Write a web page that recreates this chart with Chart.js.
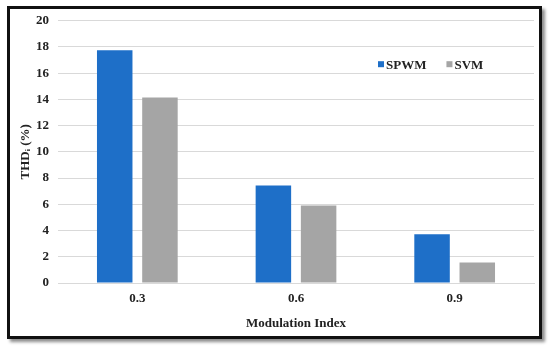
<!DOCTYPE html>
<html><head><meta charset="utf-8">
<script src="https://cdn.jsdelivr.net/npm/chart.js@4/dist/chart.umd.min.js"></script>
<style>
html,body{margin:0;padding:0;background:#fff;width:550px;height:351px;overflow:hidden;}
#frame{position:absolute;left:7px;top:6px;width:529px;height:327px;border:3px solid #111;box-shadow:3px 3px 3px rgba(0,0,0,0.45);background:#fff;}
#wrap{position:absolute;left:0;top:0;width:550px;height:351px;}
</style></head>
<body>
<div id="frame"></div>
<div id="wrap"><canvas id="c" width="550" height="351"></canvas></div>
<script>
const categories = ['0.3', '0.6', '0.9'];
const seriesNames = ['SPWM', 'SVM'];
const spwmValues = [17.75, 7.43, 3.72];
const svmValues = [14.15, 5.9, 1.57];
const yTicks = [0, 2, 4, 6, 8, 10, 12, 14, 16, 18, 20];

const FONT = 'Liberation Serif';
const legendPlugin = {
  id: 'insideLegend',
  afterDraw(chart) {
    const ctx = chart.ctx;
    const a = chart.chartArea;
    ctx.save();
    ctx.font = 'bold 13px "' + FONT + '"';
    ctx.textBaseline = 'middle';
    const y = a.top + 43.5;
    let x = a.left + 320;
    chart.data.datasets.forEach((ds) => {
      ctx.fillStyle = ds.backgroundColor;
      ctx.fillRect(x, y - 3, 6, 6);
      ctx.fillStyle = '#222';
      ctx.fillText(ds.label, x + 8, y + 1);
      x += 8 + ctx.measureText(ds.label).width + 20;
    });
    ctx.restore();
  }
};

new Chart(document.getElementById('c'), {
  type: 'bar',
  data: {
    labels: categories,
    datasets: [
      { label: seriesNames[0], data: spwmValues, backgroundColor: '#1E6FC8' },
      { label: seriesNames[1], data: svmValues, backgroundColor: '#A5A5A5' }
    ]
  },
  options: {
    responsive: false,
    animation: false,
    devicePixelRatio: 1,
    layout: { padding: { left: 10, right: 16, top: 20.7, bottom: 10 } },
    datasets: { bar: { categoryPercentage: 0.57, barPercentage: 0.785 } },
    plugins: { legend: { display: false }, tooltip: { enabled: false } },
    scales: {
      x: {
        grid: { display: false, drawTicks: false },
        border: { display: true, color: '#D9D9D9', width: 1 },
        ticks: { color: '#222', padding: 8, font: { family: FONT, size: 13, weight: 'bold' } },
        title: { display: true, text: 'Modulation Index', color: '#222', padding: { top: 0, bottom: 10 }, font: { family: FONT, size: 13, weight: 'bold' } },
        afterFit(s) { s.height = 58; }
      },
      y: {
        min: 0, max: 20,
        afterBuildTicks(s) { s.ticks = yTicks.map(v => ({ value: v })); },
        grid: { color: '#D9D9D9', drawTicks: false },
        border: { display: false },
        ticks: { color: '#222', padding: 9, font: { family: FONT, size: 13, weight: 'bold' } },
        title: { display: true, text: 'THDᵢ (%)', color: '#222', padding: { top: 8, bottom: 0 }, font: { family: FONT, size: 13, weight: 'bold' } },
        afterFit(s) { s.width = 48; }
      }
    }
  },
  plugins: [legendPlugin]
});
</script>
</body></html>
